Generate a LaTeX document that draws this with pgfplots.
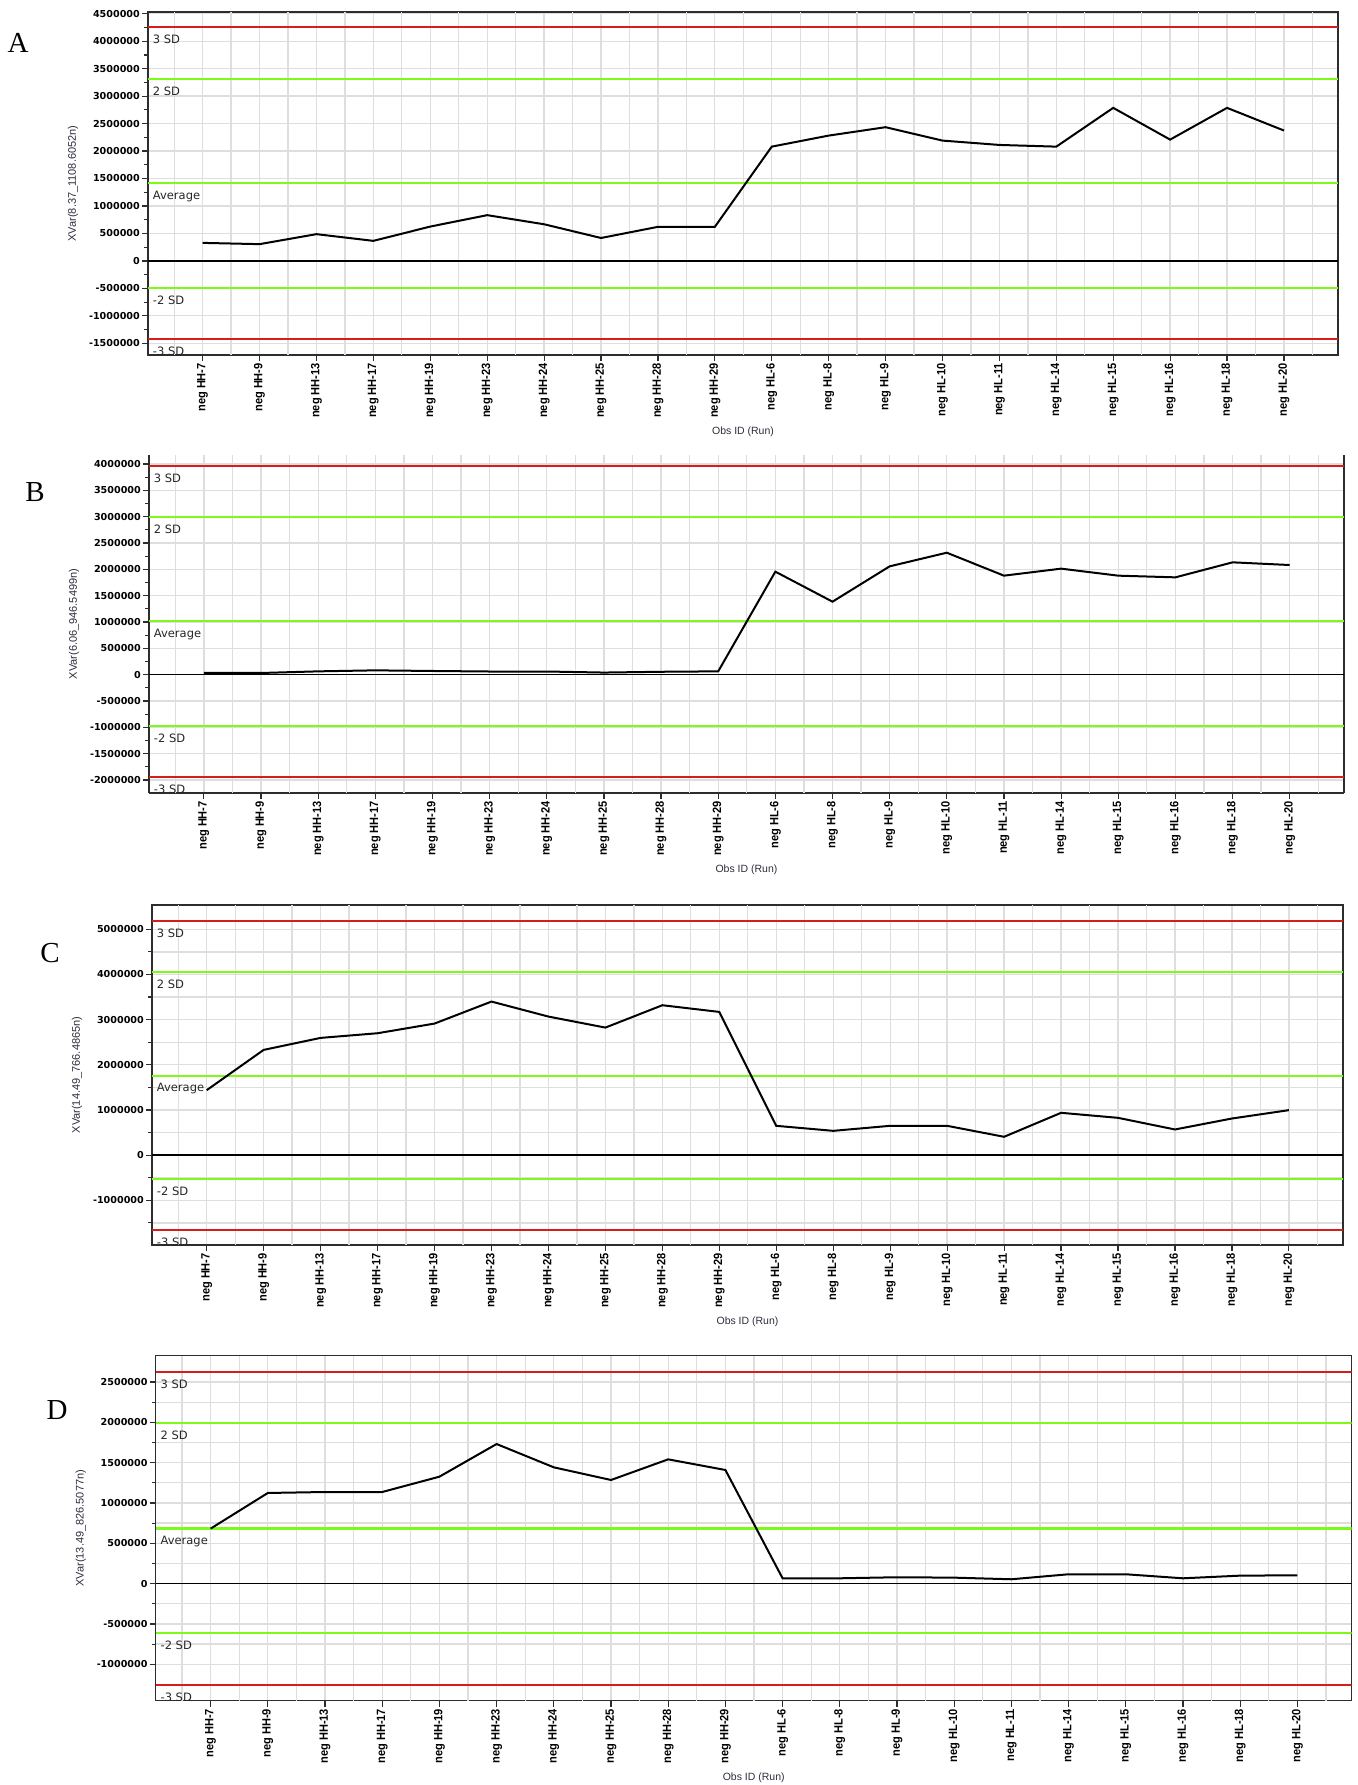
\documentclass[border=0pt]{standalone}
\usepackage{fontspec}
\setmainfont{Liberation Sans}
\newfontfamily\tickfont{DejaVu Sans}
\newfontfamily\xtickfont{Liberation Sans}[FakeStretch=0.92]
\newfontfamily\letterfont{Liberation Serif}
\usepackage{pgfplots}
\pgfplotsset{compat=1.18}
\usepackage{pgfplotstable}

\definecolor{cred}{RGB}{215,28,28}
\definecolor{cgreen}{RGB}{125,250,25}
\definecolor{cgrid}{RGB}{222,222,222}
\definecolor{cframe}{RGB}{45,45,45}
\definecolor{clabel}{RGB}{45,45,60}

\pgfplotstableread{
x A B C D
0 328000 32000 1438000 682000
1 305000 32000 2330000 1124000
2 487000 63000 2596000 1136000
3 365000 82000 2699000 1136000
4 625000 70000 2913000 1326000
5 833000 60000 3400000 1731000
6 667000 60000 3068000 1442000
7 417000 40000 2824000 1285000
8 620000 55000 3319000 1541000
9 620000 63000 3171000 1409000
10 2080000 1956000 649000 66000
11 2281000 1386000 538000 66000
12 2434000 2057000 649000 79000
13 2190000 2316000 649000 74000
14 2111000 1880000 406000 54000
15 2080000 2013000 937000 116000
16 2786000 1880000 826000 116000
17 2208000 1848000 568000 66000
18 2786000 2133000 811000 99000
19 2373000 2082000 996000 103000
}\data

\tikzset{
  sdlbl/.style={anchor=north west, inner sep=0pt, xshift=4.7pt, yshift=-7.7pt, font=\tickfont\fontsize{11.5}{12}\selectfont, text=black!85},
  letter/.style={font=\letterfont\fontsize{29}{29}\selectfont, anchor=center},
}

\pgfplotsset{
  panel/.style={
    scale only axis,
    xmin=-0.96, xmax=19.95,
    xtick={0,...,19},
    xticklabels={neg HH-7,neg HH-9,neg HH-13,neg HH-17,neg HH-19,neg HH-23,neg HH-24,neg HH-25,neg HH-28,neg HH-29,neg HL-6,neg HL-8,neg HL-9,neg HL-10,neg HL-11,neg HL-14,neg HL-15,neg HL-16,neg HL-18,neg HL-20},
    extra x ticks={-0.5,0.5,...,19.5},
    extra x tick labels={},
    extra x tick style={major tick length=0pt, grid=major},
    xmajorgrids, ymajorgrids,
    grid style={cgrid, line width=1.3pt},
    axis line style={cframe, line width=1.3pt},
    tick pos=left,
    tick align=outside,
    major tick length=6pt, minor tick length=4pt,
    tick style={cframe, line width=1.2pt},
    minor y tick num=1,
    scaled y ticks=false,
    /pgf/number format/assume math mode=true,
    /pgf/number format/fixed,
    /pgf/number format/1000 sep={},
    x tick label style={rotate=90, anchor=east, font=\xtickfont\bfseries\fontsize{12}{12}\selectfont, inner sep=2pt},
    y tick label style={font=\tickfont\bfseries\fontsize{9.6}{10}\selectfont, inner sep=2pt},
    every axis y label/.style={at={(rel axis cs:0,0.5)}, xshift=-75pt, rotate=90, anchor=center, font=\fontsize{11}{11}\selectfont, color=clabel},
    every axis x label/.style={at={(rel axis cs:0.5,0)}, yshift=-77pt, anchor=center, font=\fontsize{10.5}{11}\selectfont, color=clabel},
    xlabel={Obs ID (Run)},
  },
  zline/.style={black, line width=1.3pt, forget plot},
  rline/.style={cred, line width=1.9pt, forget plot},
  gline/.style={cgreen, line width=2.2pt, forget plot},
  dline/.style={black, line width=2pt, forget plot},
}

\begin{document}
\begin{tikzpicture}
\useasboundingbox (0,0) rectangle (1357pt,-1785pt);

% ---------- A ----------
\node[letter] at (18pt,-43pt) {A};
\begin{axis}[panel, at={(148pt,-355pt)}, anchor=south west, width=1190pt, height=343pt,
  ymin=-1713000, ymax=4531000, ytick={-1500000,-1000000,...,4500000},
  ylabel={XVar(8.37\_1108.6052n)}]
\addplot[zline] coordinates {(-0.96,0) (19.95,0)};
\addplot[rline] coordinates {(-0.96,4250000) (19.95,4250000)};
\addplot[gline] coordinates {(-0.96,3314000) (19.95,3314000)};
\addplot[gline] coordinates {(-0.96,1416000) (19.95,1416000)};
\addplot[gline] coordinates {(-0.96,-487000) (19.95,-487000)};
\addplot[rline] coordinates {(-0.96,-1425000) (19.95,-1425000)};
\addplot[dline] table[x=x, y=A] {\data};
\node[sdlbl] at (axis cs:-0.96,4250000) {3 SD};
\node[sdlbl] at (axis cs:-0.96,3314000) {2 SD};
\node[sdlbl] at (axis cs:-0.96,1416000) {Average};
\node[sdlbl] at (axis cs:-0.96,-487000) {-2 SD};
\node[sdlbl] at (axis cs:-0.96,-1425000) {-3 SD};
\end{axis}

% ---------- B ----------
\node[letter] at (35pt,-492pt) {B};
\begin{axis}[panel, at={(149pt,-793pt)}, anchor=south west, width=1195pt, height=338pt,
  axis x line*=bottom, axis y line*=box,
  ymin=-2247000, ymax=4171000, ytick={-2000000,-1500000,...,4000000},
  ylabel={XVar(6.06\_946.5499n)}]
\addplot[zline] coordinates {(-0.96,0) (19.95,0)};
\addplot[rline] coordinates {(-0.96,3970000) (19.95,3970000)};
\addplot[gline] coordinates {(-0.96,3000000) (19.95,3000000)};
\addplot[gline] coordinates {(-0.96,1019000) (19.95,1019000)};
\addplot[gline] coordinates {(-0.96,-969000) (19.95,-969000)};
\addplot[rline] coordinates {(-0.96,-1949000) (19.95,-1949000)};
\addplot[dline] table[x=x, y=B] {\data};
\node[sdlbl] at (axis cs:-0.96,3970000) {3 SD};
\node[sdlbl] at (axis cs:-0.96,3000000) {2 SD};
\node[sdlbl] at (axis cs:-0.96,1019000) {Average};
\node[sdlbl] at (axis cs:-0.96,-969000) {-2 SD};
\node[sdlbl] at (axis cs:-0.96,-1949000) {-3 SD};
\end{axis}

% ---------- C ----------
\node[letter] at (50pt,-953pt) {C};
\begin{axis}[panel, at={(152pt,-1245pt)}, anchor=south west, width=1191pt, height=340pt,
  ymin=-1990000, ymax=5538000, ytick={-2000000,-1000000,...,5000000}, yminorgrids,
  minor grid style={cgrid, line width=1.3pt},
  ylabel={XVar(14.49\_766.4865n)}]
\addplot[zline] coordinates {(-0.96,0) (19.95,0)};
\addplot[rline] coordinates {(-0.96,5190000) (19.95,5190000)};
\addplot[gline] coordinates {(-0.96,4062000) (19.95,4062000)};
\addplot[gline] coordinates {(-0.96,1761000) (19.95,1761000)};
\addplot[gline] coordinates {(-0.96,-531000) (19.95,-531000)};
\addplot[rline] coordinates {(-0.96,-1659000) (19.95,-1659000)};
\addplot[dline] table[x=x, y=C] {\data};
\node[sdlbl] at (axis cs:-0.96,5190000) {3 SD};
\node[sdlbl] at (axis cs:-0.96,4062000) {2 SD};
\node[sdlbl] at (axis cs:-0.96,1761000) {Average};
\node[sdlbl] at (axis cs:-0.96,-531000) {-2 SD};
\node[sdlbl] at (axis cs:-0.96,-1659000) {-3 SD};
\end{axis}

% ---------- D ----------
\node[letter] at (57pt,-1410pt) {D};
\begin{axis}[panel, at={(155.7pt,-1700.7pt)}, anchor=south west, width=1196pt, height=345pt,
  ymin=-1452000, ymax=2826000, ytick={-1000000,-500000,...,2500000}, yminorgrids,
  minor grid style={cgrid, line width=1.3pt},
  ylabel={XVar(13.49\_826.5077n)}]
\addplot[zline] coordinates {(-0.96,0) (19.95,0)};
\addplot[rline] coordinates {(-0.96,2624000) (19.95,2624000)};
\addplot[gline] coordinates {(-0.96,1995000) (19.95,1995000)};
\addplot[gline] coordinates {(-0.96,683000) (19.95,683000)};
\addplot[gline] coordinates {(-0.96,-615000) (19.95,-615000)};
\addplot[rline] coordinates {(-0.96,-1253000) (19.95,-1253000)};
\addplot[dline] table[x=x, y=D] {\data};
\node[sdlbl] at (axis cs:-0.96,2624000) {3 SD};
\node[sdlbl] at (axis cs:-0.96,1995000) {2 SD};
\node[sdlbl] at (axis cs:-0.96,683000) {Average};
\node[sdlbl] at (axis cs:-0.96,-615000) {-2 SD};
\node[sdlbl] at (axis cs:-0.96,-1253000) {-3 SD};
\end{axis}
\end{tikzpicture}
\end{document}
